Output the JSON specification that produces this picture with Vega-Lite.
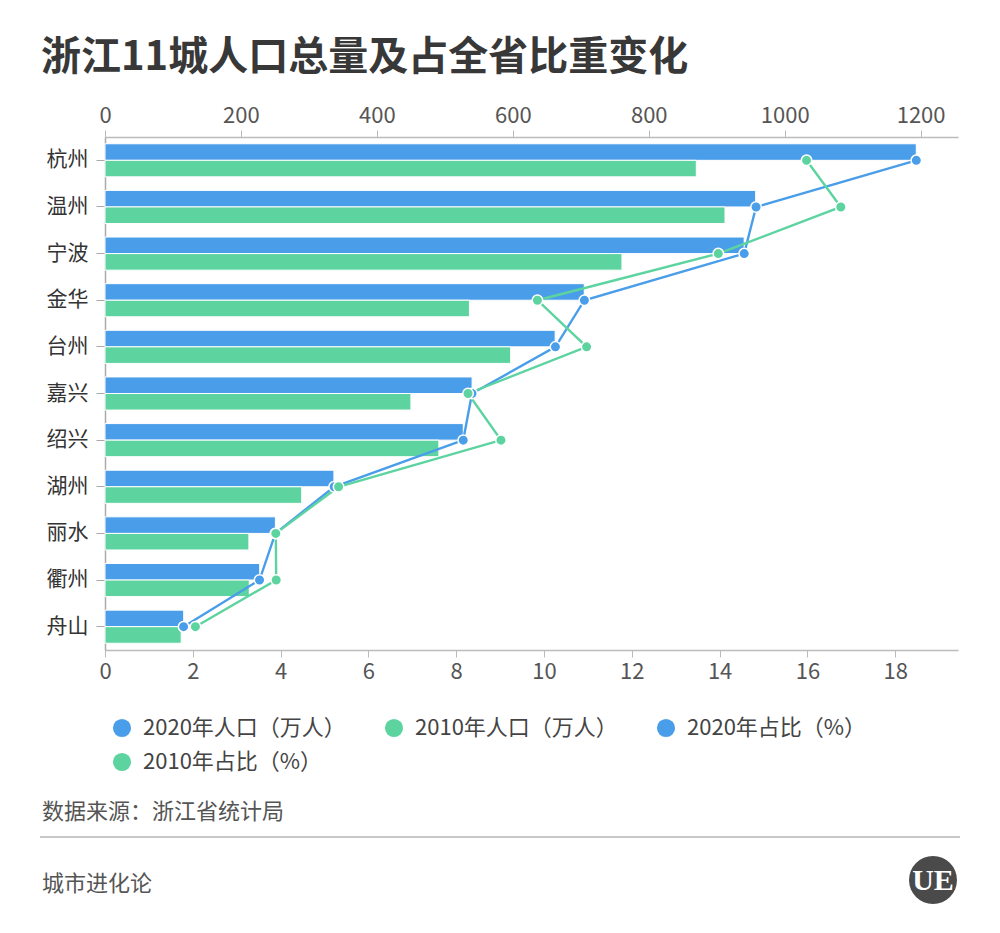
{
  "$schema": "https://vega.github.io/schema/vega-lite/v6.json",
  "width": 853,
  "height": 513,
  "autosize": {"type": "none"},
  "padding": {"left": 105, "top": 137, "right": 42, "bottom": 283},
  "background": "white",
  "config": {
    "font": "Noto Sans CJK SC",
    "view": {"stroke": null}
  },
  "title": {
    "text": "浙江11城人口总量及占全省比重变化",
    "anchor": "start",
    "frame": "group",
    "dx": -64,
    "offset": 26,
    "fontSize": 40,
    "fontWeight": "bold",
    "color": "#383838",
    "font": "Noto Sans CJK SC"
  },
  "datasets": {
    "pop": [
      {"city": "杭州", "series": "2020年人口（万人）", "pop": 1193.6},
      {"city": "杭州", "series": "2010年人口（万人）", "pop": 870.0},
      {"city": "温州", "series": "2020年人口（万人）", "pop": 957.3},
      {"city": "温州", "series": "2010年人口（万人）", "pop": 912.2},
      {"city": "宁波", "series": "2020年人口（万人）", "pop": 940.4},
      {"city": "宁波", "series": "2010年人口（万人）", "pop": 760.6},
      {"city": "金华", "series": "2020年人口（万人）", "pop": 705.1},
      {"city": "金华", "series": "2010年人口（万人）", "pop": 536.2},
      {"city": "台州", "series": "2020年人口（万人）", "pop": 662.3},
      {"city": "台州", "series": "2010年人口（万人）", "pop": 596.9},
      {"city": "嘉兴", "series": "2020年人口（万人）", "pop": 540.1},
      {"city": "嘉兴", "series": "2010年人口（万人）", "pop": 450.1},
      {"city": "绍兴", "series": "2020年人口（万人）", "pop": 527.1},
      {"city": "绍兴", "series": "2010年人口（万人）", "pop": 491.2},
      {"city": "湖州", "series": "2020年人口（万人）", "pop": 336.8},
      {"city": "湖州", "series": "2010年人口（万人）", "pop": 289.4},
      {"city": "丽水", "series": "2020年人口（万人）", "pop": 250.7},
      {"city": "丽水", "series": "2010年人口（万人）", "pop": 211.7},
      {"city": "衢州", "series": "2020年人口（万人）", "pop": 227.6},
      {"city": "衢州", "series": "2010年人口（万人）", "pop": 212.3},
      {"city": "舟山", "series": "2020年人口（万人）", "pop": 115.8},
      {"city": "舟山", "series": "2010年人口（万人）", "pop": 112.1}
    ],
    "share": [
      {"city": "杭州", "idx": 1, "series": "2020年占比（%）", "pct": 18.48},
      {"city": "温州", "idx": 2, "series": "2020年占比（%）", "pct": 14.83},
      {"city": "宁波", "idx": 3, "series": "2020年占比（%）", "pct": 14.56},
      {"city": "金华", "idx": 4, "series": "2020年占比（%）", "pct": 10.92},
      {"city": "台州", "idx": 5, "series": "2020年占比（%）", "pct": 10.26},
      {"city": "嘉兴", "idx": 6, "series": "2020年占比（%）", "pct": 8.36},
      {"city": "绍兴", "idx": 7, "series": "2020年占比（%）", "pct": 8.16},
      {"city": "湖州", "idx": 8, "series": "2020年占比（%）", "pct": 5.22},
      {"city": "丽水", "idx": 9, "series": "2020年占比（%）", "pct": 3.88},
      {"city": "衢州", "idx": 10, "series": "2020年占比（%）", "pct": 3.52},
      {"city": "舟山", "idx": 11, "series": "2020年占比（%）", "pct": 1.79},
      {"city": "杭州", "idx": 1, "series": "2010年占比（%）", "pct": 15.98},
      {"city": "温州", "idx": 2, "series": "2010年占比（%）", "pct": 16.76},
      {"city": "宁波", "idx": 3, "series": "2010年占比（%）", "pct": 13.97},
      {"city": "金华", "idx": 4, "series": "2010年占比（%）", "pct": 9.85},
      {"city": "台州", "idx": 5, "series": "2010年占比（%）", "pct": 10.97},
      {"city": "嘉兴", "idx": 6, "series": "2010年占比（%）", "pct": 8.27},
      {"city": "绍兴", "idx": 7, "series": "2010年占比（%）", "pct": 9.02},
      {"city": "湖州", "idx": 8, "series": "2010年占比（%）", "pct": 5.32},
      {"city": "丽水", "idx": 9, "series": "2010年占比（%）", "pct": 3.89},
      {"city": "衢州", "idx": 10, "series": "2010年占比（%）", "pct": 3.90},
      {"city": "舟山", "idx": 11, "series": "2010年占比（%）", "pct": 2.06}
    ]
  },
  "resolve": {"scale": {"x": "independent"}, "axis": {"x": "independent"}},
  "layer": [
    {
      "data": {"name": "pop"},
      "mark": {"type": "bar", "stroke": "white", "strokeWidth": 1},
      "encoding": {
        "y": {
          "field": "city", "type": "nominal",
          "scale": {"domain": ["杭州","温州","宁波","金华","台州","嘉兴","绍兴","湖州","丽水","衢州","舟山"], "paddingInner": 0.29, "paddingOuter": 0.145},
          "axis": {"title": null, "labelFontSize": 21, "labelColor": "#333", "tickSize": 9, "tickColor": "#aaa", "domainColor": "#aaa", "labelPadding": 8, "domainWidth": 1.5}
        },
        "yOffset": {"field": "series", "type": "nominal", "scale": {"domain": ["2020年人口（万人）", "2010年人口（万人）"], "paddingInner": 0, "paddingOuter": 0}},
        "x": {
          "field": "pop", "type": "quantitative",
          "scale": {"domain": [0, 1255], "nice": false, "zero": true},
          "axis": {"orient": "top", "title": null, "format": "d", "values": [0, 200, 400, 600, 800, 1000, 1200], "labelFontSize": 22, "labelColor": "#555", "grid": false, "domainColor": "#bbb", "domainWidth": 1.5, "tickColor": "#bbb", "tickSize": 7, "labelPadding": 3, "labelFlush": false}
        },
        "color": {
          "field": "series", "type": "nominal",
          "scale": {"domain": ["2020年人口（万人）", "2010年人口（万人）", "2020年占比（%）", "2010年占比（%）"], "range": ["#4a9ee9", "#5dd4a0", "#4a9ee9", "#5dd4a0"]},
          "legend": {
            "title": null, "orient": "none", "legendX": 6, "legendY": 580, "direction": "horizontal", "columns": 3,
            "symbolType": "circle", "symbolSize": 330, "symbolStrokeWidth": 0, "labelFontSize": 22, "labelColor": "#444",
            "columnPadding": 37, "rowPadding": 12, "labelOffset": 10, "labelLimit": 400,
            "encode": {"symbols": {"update": {"fill": {"scale": "color", "field": "value"}, "stroke": {"value": "transparent"}, "shape": {"value": "circle"}}}}
          }
        }
      }
    },
    {
      "data": {"name": "share"},
      "mark": {"type": "line", "strokeWidth": 2.4, "point": {"filled": true, "size": 110, "stroke": "white", "strokeWidth": 1.5}},
      "encoding": {
        "y": {"field": "city", "type": "nominal"},
        "x": {
          "field": "pct", "type": "quantitative",
          "scale": {"domain": [0, 19.43], "nice": false, "zero": true},
          "axis": {"orient": "bottom", "title": null, "values": [0, 2, 4, 6, 8, 10, 12, 14, 16, 18], "labelFontSize": 22, "labelColor": "#555", "grid": false, "domainColor": "#bbb", "domainWidth": 1.5, "tickColor": "#bbb", "tickSize": 7, "labelPadding": 4, "labelFlush": false}
        },
        "order": {"field": "idx", "type": "quantitative"},
        "color": {"field": "series", "type": "nominal"},
        "detail": {"field": "series", "type": "nominal"}
      }
    },
    {
      "data": {"values": [{"t": "数据来源：浙江省统计局"}]},
      "mark": {"type": "text", "align": "left", "baseline": "middle", "fontSize": 22, "color": "#555"},
      "encoding": {"text": {"field": "t"}, "x": {"value": -63}, "y": {"value": 675}}
    },
    {
      "data": {"values": [{}]},
      "mark": {"type": "rule", "color": "#c8c8c8", "strokeWidth": 2},
      "encoding": {"x": {"value": -65}, "x2": {"value": 855}, "y": {"value": 700}}
    },
    {
      "data": {"values": [{"t": "城市进化论"}]},
      "mark": {"type": "text", "align": "left", "baseline": "middle", "fontSize": 22, "color": "#555"},
      "encoding": {"text": {"field": "t"}, "x": {"value": -63}, "y": {"value": 747}}
    },
    {
      "data": {"values": [{}]},
      "mark": {"type": "point", "filled": true, "size": 2300, "color": "#4a4a4a", "opacity": 1},
      "encoding": {"x": {"value": 828}, "y": {"value": 743}}
    },
    {
      "data": {"values": [{"t": "UE"}]},
      "mark": {"type": "text", "align": "center", "baseline": "middle", "fontSize": 30, "fontWeight": "bold", "color": "white", "font": "Liberation Sans Narrow"},
      "encoding": {"text": {"field": "t"}, "x": {"value": 828}, "y": {"value": 744}}
    }
  ]
}
